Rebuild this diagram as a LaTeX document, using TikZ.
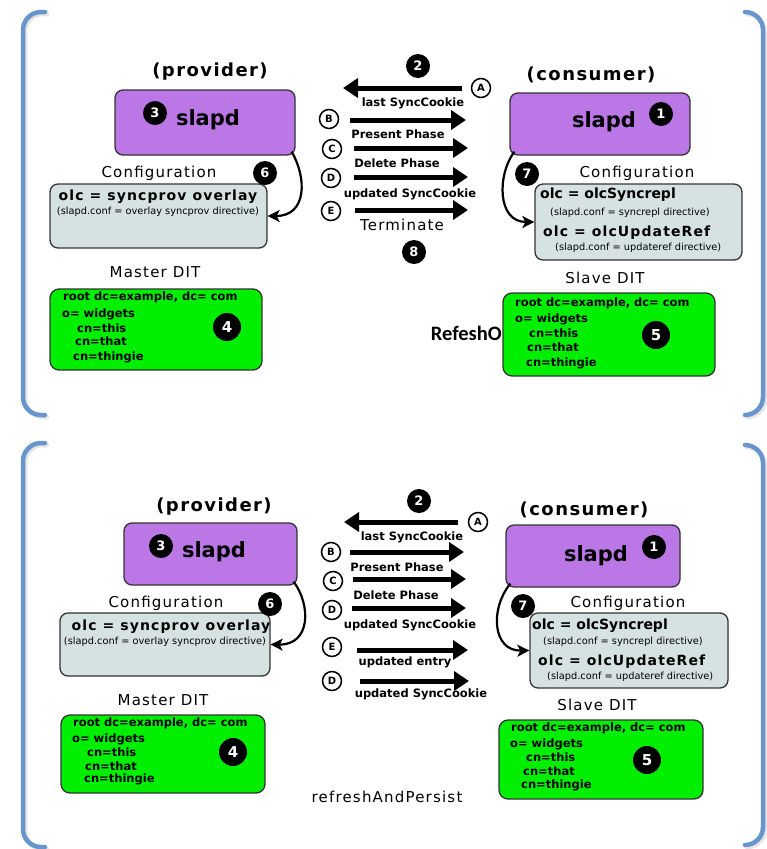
\documentclass[tikz,border=0pt]{standalone}
\usepackage{fontspec}
\setmainfont{DejaVu Sans}
\newfontfamily\spaced[LetterSpace=8]{DejaVu Sans}
\newfontfamily\calib{Carlito}
\usetikzlibrary{arrows.meta,calc}
\definecolor{bracketblue}{RGB}{104,150,204}
\definecolor{slapdpurple}{RGB}{187,119,230}
\definecolor{confgray}{RGB}{214,226,226}
\definecolor{ditgreen}{RGB}{0,238,0}
\newcommand\fs[1]{\fontsize{#1}{#1}\selectfont}
\tikzset{
  bracket/.style={draw=bracketblue,line width=4.5pt,rounded corners=18pt,line cap=round},
  bshadow/.style={draw=black!10,line width=4.5pt,rounded corners=18pt,line cap=round},
  procbox/.style={draw=black!80,line width=1.3pt,fill=slapdpurple,rounded corners=8pt,inner sep=0pt},
  confbox/.style={draw=black!80,line width=1.3pt,fill=confgray,rounded corners=8pt,inner sep=0pt},
  ditbox/.style={draw=black!80,line width=1.3pt,fill=ditgreen,rounded corners=9pt,inner sep=0pt},
  num/.style={circle,fill=black,text=white,inner sep=0pt,minimum size=24pt,font=\fs{13}\bfseries},
  bignum/.style={num,minimum size=28pt,font=\fs{15}\bfseries},
  letter/.style={circle,draw=black,line width=1.5pt,fill=white,inner sep=0pt,minimum size=19pt,font=\fs{10}\bfseries},
  msg/.style={line width=5pt,-{Triangle[length=15pt,width=19pt]}},
  loopy/.style={line width=2.2pt,-{Stealth[length=12pt,width=12pt,inset=3pt]}},
  role/.style={font=\spaced\fs{18}\bfseries,inner sep=0pt},
  ttl/.style={font=\spaced\fs{15},inner sep=0pt},
  daemon/.style={font=\fs{21}\bfseries,inner sep=0pt},
  olc/.style={font=\fs{14}\bfseries,inner sep=0pt},
  olcs/.style={font=\spaced\fs{14}\bfseries,inner sep=0pt},
  dir/.style={font=\fs{9.8},inner sep=0pt},
  dit/.style={anchor=west,font=\fs{11.5}\bfseries,inner sep=0pt},
  mlab/.style={font=\fs{11.5}\bfseries,inner sep=0pt},
}
\begin{document}
\begin{tikzpicture}[x=1pt,y=-1pt]
\useasboundingbox (0,0) rectangle (767,849);
\fill[white] (0,0) rectangle (767,849);

% ================= TOP PANEL =================
\draw[bshadow] (47,14) -- (25,14) -- (25,417) -- (47,417);
\draw[bshadow] (747,14) -- (765,14) -- (765,417) -- (747,417);
\draw[bracket] (45,12) -- (23,12) -- (23,415) -- (45,415);
\draw[bracket] (745,12) -- (763,12) -- (763,415) -- (745,415);

% provider
\node[role] (prov1) at (210,72) {(provider)};
\node[procbox,minimum width=180pt,minimum height=65pt] (ps1) at (205,122.5) {};
\node[daemon] (psl1) at (208,120) {slapd};
\node[num] (n3a) at (155,113) {3};
\node[ttl] (pct1) at (159,173) {Configuration};
\node[confbox,minimum width=217pt,minimum height=64pt] (pc1) at (158.5,216) {};
\node[olcs] (pco1) at (158,197) {olc = syncprov overlay};
\node[dir] (pcd1) at (158,212) {(slapd.conf = overlay syncprov directive)};
\draw[loopy] ($(ps1.south east)+(-4,-4)$) .. controls (307,178) and (307,216) .. (pc1.east);
\node[num] (n6a) at (265,173) {6};

\node[ttl] (mdt1) at (155,272) {Master DIT};
\node[ditbox,minimum width=212pt,minimum height=81pt] (md1) at (156,329.5) {};
\node[dit] (md1a) at (63,297) {root dc=example, dc= com};
\node[dit] (md1b) at (62,314) {o= widgets};
\node[dit] (md1c) at (77,328) {cn=this};
\node[dit] (md1d) at (75,341) {cn=that};
\node[dit] (md1e) at (73,357) {cn=thingie};
\node[bignum] (n4a) at (227,327) {4};

% messages
\node[num] (n2a) at (418,66) {2};
\node[letter] (la1) at (481,88) {A};
\coordinate (a1s) at (462,88); \coordinate (a1e) at (343,88);
\draw[msg] (a1s) -- (a1e);
\node[mlab] (ml1a) at (413,103) {last SyncCookie};

\node[letter] (lb1) at (329,119) {B};
\coordinate (b1s) at (350,120); \coordinate (b1e) at (466,120);
\draw[msg] (b1s) -- (b1e);
\node[mlab] (ml1b) at (398,134) {Present Phase};

\node[letter] (lc1) at (332,149) {C};
\coordinate (c1s) at (354,148); \coordinate (c1e) at (468,148);
\draw[msg] (c1s) -- (c1e);
\node[mlab] (ml1c) at (397,163) {Delete Phase};

\node[letter] (ld1) at (331,178) {D};
\coordinate (d1s) at (354,177); \coordinate (d1e) at (468,177);
\draw[msg] (d1s) -- (d1e);
\node[mlab] (ml1d) at (410,194) {updated SyncCookie};

\node[letter] (le1) at (331,211) {E};
\coordinate (e1s) at (355,210); \coordinate (e1e) at (468,210);
\draw[msg] (e1s) -- (e1e);
\node[ttl] (ml1e) at (402,225) {Terminate};
\node[num] (n8a) at (414,252) {8};

% consumer
\node[role] (cons1) at (591,75) {(consumer)};
\node[procbox,minimum width=180pt,minimum height=62pt] (cs1) at (600,124) {};
\node[daemon] (csl1) at (604,122) {slapd};
\node[num] (n1a) at (661,114) {1};
\node[ttl] (cct1) at (637,173) {Configuration};
\node[confbox,minimum width=207pt,minimum height=76pt] (cc1) at (638.5,222) {};
\node[olc,anchor=west] (cco1) at (540,195) {olc = olcSyncrepl};
\node[dir,anchor=west] (ccd1) at (550,213) {(slapd.conf = syncrepl directive)};
\node[olcs,anchor=west] (ccu1) at (543,233) {olc = olcUpdateRef};
\node[dir,anchor=west] (ccr1) at (555,248) {(slapd.conf = updateref directive)};
\draw[loopy] ($(cs1.south west)+(5,-4)$) .. controls (497,175) and (497,222) .. (cc1.west);
\node[num] (n7a) at (527,174) {7};

\node[font=\calib\fs{20.5}\bfseries,inner sep=0pt,anchor=east] (refo) at (502,333) {RefeshO};
\node[ttl] (sdt1) at (605,278) {Slave DIT};
\node[ditbox,minimum width=212pt,minimum height=83pt] (sd1) at (609,334.5) {};
\node[dit] (sd1a) at (515,303) {root dc=example, dc= com};
\node[dit] (sd1b) at (515,319) {o= widgets};
\node[dit] (sd1c) at (529,333) {cn=this};
\node[dit] (sd1d) at (527,347) {cn=that};
\node[dit] (sd1e) at (526,363) {cn=thingie};
\node[bignum] (n5a) at (656,335) {5};

% ================= BOTTOM PANEL =================
\draw[bshadow] (47,445) -- (25,445) -- (25,849) -- (47,849);
\draw[bshadow] (747,447) -- (765,447) -- (765,847) -- (747,847);
\draw[bracket] (45,443) -- (23,443) -- (23,847) -- (45,847);
\draw[bracket] (745,445) -- (763,445) -- (763,845) -- (745,845);

% provider
\node[role] (prov2) at (214,507) {(provider)};
\node[procbox,minimum width=173pt,minimum height=62pt] (ps2) at (210.5,554) {};
\node[daemon] (psl2) at (214,552) {slapd};
\node[num] (n3b) at (161,546) {3};
\node[ttl] (pct2) at (166,603) {Configuration};
\node[confbox,minimum width=210pt,minimum height=63pt] (pc2) at (165,644.5) {};
\node[olcs] (pco2) at (171,627) {olc = syncprov overlay};
\node[dir] (pcd2) at (165,642) {(slapd.conf = overlay syncprov directive)};
\draw[loopy] ($(ps2.south east)+(-4,-4)$) .. controls (311,605) and (311,645) .. (pc2.east);
\node[num] (n6b) at (270,604) {6};

\node[ttl] (mdt2) at (163,700) {Master DIT};
\node[ditbox,minimum width=204pt,minimum height=78pt] (md2) at (163,754) {};
\node[dit] (md2a) at (73,723) {root dc=example, dc= com};
\node[dit] (md2b) at (72,739) {o= widgets};
\node[dit] (md2c) at (87,752) {cn=this};
\node[dit] (md2d) at (85,766) {cn=that};
\node[dit] (md2e) at (84,779) {cn=thingie};
\node[bignum] (n4b) at (233,752) {4};

% messages
\node[num] (n2b) at (419,501) {2};
\node[letter] (la2) at (478,522) {A};
\coordinate (a2s) at (458,522); \coordinate (a2e) at (344,522);
\draw[msg] (a2s) -- (a2e);
\node[mlab] (ml2a) at (412,537) {last SyncCookie};

\node[letter] (lb2) at (331,552) {B};
\coordinate (b2s) at (350,552); \coordinate (b2e) at (464,552);
\draw[msg] (b2s) -- (b2e);
\node[mlab] (ml2b) at (397,567) {Present Phase};

\node[letter] (lc2) at (333,581) {C};
\coordinate (c2s) at (353,579); \coordinate (c2e) at (466,579);
\draw[msg] (c2s) -- (c2e);
\node[mlab] (ml2c) at (396,595) {Delete Phase};

\node[letter] (ld2) at (332,610) {D};
\coordinate (d2s) at (352,608); \coordinate (d2e) at (466,608);
\draw[msg] (d2s) -- (d2e);
\node[mlab] (ml2d) at (410,625) {updated SyncCookie};

\node[letter] (le2) at (332,647) {E};
\coordinate (e2s) at (357,650); \coordinate (e2e) at (468,650);
\draw[msg] (e2s) -- (e2e);
\node[mlab] (ml2e) at (405,662) {updated entry};

\node[letter] (ld3) at (332,681) {D};
\coordinate (d3s) at (360,681); \coordinate (d3e) at (469,681);
\draw[msg] (d3s) -- (d3e);
\node[mlab] (ml2f) at (421,694) {updated SyncCookie};

\node[ttl] (rap) at (387,797) {refreshAndPersist};

% consumer
\node[role] (cons2) at (584,510) {(consumer)};
\node[procbox,minimum width=174pt,minimum height=62pt] (cs2) at (593,556) {};
\node[daemon] (csl2) at (596,556) {slapd};
\node[num] (n1b) at (654,547) {1};
\node[ttl] (cct2) at (628,603) {Configuration};
\node[confbox,minimum width=198pt,minimum height=75pt] (cc2) at (629,650.5) {};
\node[olc,anchor=west] (cco2) at (532,626) {olc = olcSyncrepl};
\node[dir,anchor=west] (ccd2) at (543,642) {(slapd.conf = syncrepl directive)};
\node[olcs,anchor=west] (ccu2) at (538,662) {olc = olcUpdateRef};
\node[dir,anchor=west] (ccr2) at (547,677) {(slapd.conf = updateref directive)};
\draw[loopy] ($(cs2.south west)+(5,-4)$) .. controls (490,608) and (492,651) .. (cc2.west);
\node[num] (n7b) at (523,606) {7};

\node[ttl] (sdt2) at (597,705) {Slave DIT};
\node[ditbox,minimum width=204pt,minimum height=79pt] (sd2) at (601,759.5) {};
\node[dit] (sd2a) at (511,728) {root dc=example, dc= com};
\node[dit] (sd2b) at (510,744) {o= widgets};
\node[dit] (sd2c) at (526,757) {cn=this};
\node[dit] (sd2d) at (523,771) {cn=that};
\node[dit] (sd2e) at (521,785) {cn=thingie};
\node[bignum] (n5b) at (647,760) {5};
\end{tikzpicture}
\end{document}
